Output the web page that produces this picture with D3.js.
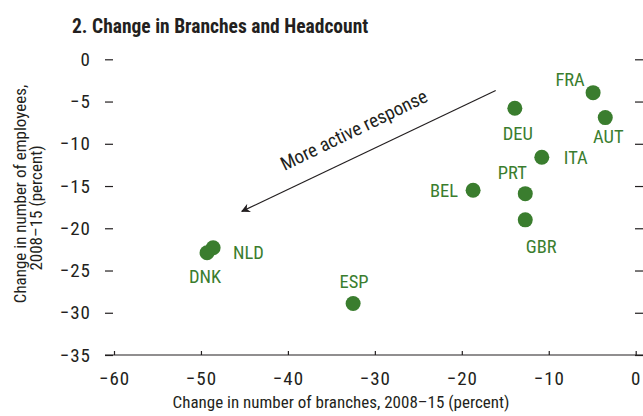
<!DOCTYPE html>
<html>
<head>
<meta charset="utf-8">
<script src="https://cdn.jsdelivr.net/npm/d3@7"></script>
<style>
  body { margin: 0; background: #fff; }
  svg text { font-family: "Liberation Sans Narrow", "Arial Narrow", "Roboto Condensed", sans-serif; }
</style>
</head>
<body>
<div id="chart"></div>
<script>
// data
const countries = ["FRA", "AUT", "DEU", "ITA", "PRT", "GBR", "BEL", "NLD", "DNK", "ESP"];
const branchChange = [-4.9, -3.5, -13.9, -10.8, -12.7, -12.7, -18.7, -48.6, -49.3, -32.5];
const employeeChange = [-3.95, -6.9, -5.8, -11.6, -15.9, -19.0, -15.5, -22.3, -22.9, -28.9];
const xTicks = [-60, -50, -40, -30, -20, -10, 0];
const yTicks = [0, -5, -10, -15, -20, -25, -30, -35];
// arrow annotation, from/to in data units
const arrowFrom = [-16.1, -3.7];
const arrowTo = [-45.3, -18.0];

// label placement next to each dot (pixels)
const labelPos = {
    FRA: { dx: -23, dy: -7, anchor: "middle" },
    AUT: { dx: 3, dy: 25, anchor: "middle" },
    DEU: { dx: 3, dy: 32, anchor: "middle" },
    ITA: { dx: 22, dy: 7, anchor: "start" },
    PRT: { dx: -13, dy: -15, anchor: "middle" },
    GBR: { dx: 16, dy: 33, anchor: "middle" },
    BEL: { dx: -15, dy: 7, anchor: "end" },
    NLD: { dx: 20, dy: 11, anchor: "start" },
    DNK: { dx: -2, dy: 30, anchor: "middle" },
    ESP: { dx: 1, dy: -15, anchor: "middle" }
};

const width = 643, height = 416;
const green = "#3a7d2e";
const ink = "#231f20";
const fmt = d => d < 0 ? "\u2212" + Math.abs(d) : d;

const svg = d3.select("#chart").append("svg")
    .attr("width", width)
    .attr("height", height);

const x = d3.scaleLinear().domain([-60, 0]).range([114, 635.7]);
const y = d3.scaleLinear().domain([0, -35]).range([59.3, 355]);

// title
svg.append("text")
    .attr("x", 72).attr("y", 33)
    .attr("font-size", 19.5).attr("font-weight", "bold")
    .attr("fill", ink)
    .text("2. Change in Branches and Headcount");

// bottom axis
const xAxis = svg.append("g")
    .attr("transform", `translate(0,${y(-35)})`)
    .call(d3.axisBottom(x).tickValues(xTicks).tickSizeInner(-4).tickSizeOuter(0)
        .tickPadding(17).tickFormat(fmt));
xAxis.select(".domain").remove();
xAxis.append("line")
    .attr("x1", 105).attr("x2", width)
    .attr("stroke", ink).attr("stroke-width", 1.2);
xAxis.selectAll(".tick line").attr("stroke", ink).attr("stroke-width", 1.2);
xAxis.selectAll("text").attr("font-size", 19).attr("letter-spacing", 1).attr("fill", ink);

// left axis (ticks + labels)
const yAxisL = svg.append("g")
    .attr("transform", "translate(113,0)")
    .call(d3.axisLeft(y).tickValues(yTicks).tickSize(8).tickPadding(14).tickFormat(fmt));
yAxisL.select(".domain").remove();
yAxisL.selectAll(".tick line").attr("stroke", ink).attr("stroke-width", 1.2);
yAxisL.selectAll("text").attr("font-size", 19).attr("letter-spacing", 1).attr("fill", ink);

// right axis (ticks only)
const yAxisR = svg.append("g")
    .attr("transform", `translate(${width},0)`)
    .call(d3.axisLeft(y).tickValues(yTicks).tickSize(8).tickFormat(""));
yAxisR.select(".domain").remove();
yAxisR.selectAll(".tick line").attr("stroke", ink).attr("stroke-width", 1.2);

// axis titles
svg.append("text")
    .attr("x", 341).attr("y", 408)
    .attr("text-anchor", "middle")
    .attr("font-size", 17).attr("fill", ink)
    .text("Change in number of branches, 2008\u201315 (percent)");

svg.append("text")
    .attr("transform", "translate(26,194) rotate(-90)")
    .attr("text-anchor", "middle")
    .attr("font-size", 17).attr("fill", ink)
    .text("Change in number of employees,");
svg.append("text")
    .attr("transform", "translate(42,208) rotate(-90)")
    .attr("text-anchor", "middle")
    .attr("font-size", 17).attr("fill", ink)
    .text("2008\u201315 (percent)");

// arrow annotation
svg.append("defs").append("marker")
    .attr("id", "arrowhead")
    .attr("viewBox", "0 0 10 10")
    .attr("refX", 9).attr("refY", 5)
    .attr("markerWidth", 9).attr("markerHeight", 9)
    .attr("markerUnits", "userSpaceOnUse")
    .attr("orient", "auto")
    .append("path")
    .attr("d", "M0,0 L10,5 L0,10 L3,5 Z")
    .attr("fill", ink);

svg.append("line")
    .attr("x1", x(arrowFrom[0])).attr("y1", y(arrowFrom[1]))
    .attr("x2", x(arrowTo[0])).attr("y2", y(arrowTo[1]))
    .attr("stroke", ink).attr("stroke-width", 1.2)
    .attr("marker-end", "url(#arrowhead)");

const ax0 = x(arrowFrom[0]), ay0 = y(arrowFrom[1]);
const ax1 = x(arrowTo[0]), ay1 = y(arrowTo[1]);
const angle = Math.atan2(ay0 - ay1, ax0 - ax1) * 180 / Math.PI;
svg.append("text")
    .attr("transform", `translate(${(ax0 + ax1) / 2 - 12},${(ay0 + ay1) / 2 - 15}) rotate(${angle - 0.4})`)
    .attr("text-anchor", "middle")
    .attr("font-size", 19).attr("fill", ink)
    .text("More active response");

// points
const pts = countries.map((c, i) => ({ name: c, bx: branchChange[i], ey: employeeChange[i] }));

svg.append("g").selectAll("circle")
    .data(pts)
    .join("circle")
    .attr("cx", d => x(d.bx))
    .attr("cy", d => y(d.ey))
    .attr("r", 7.5)
    .attr("fill", green);

svg.append("g").selectAll("text")
    .data(pts)
    .join("text")
    .attr("x", d => x(d.bx) + labelPos[d.name].dx)
    .attr("y", d => y(d.ey) + labelPos[d.name].dy)
    .attr("text-anchor", d => labelPos[d.name].anchor)
    .attr("font-size", 18.5)
    .attr("fill", green)
    .text(d => d.name);
</script>
</body>
</html>
